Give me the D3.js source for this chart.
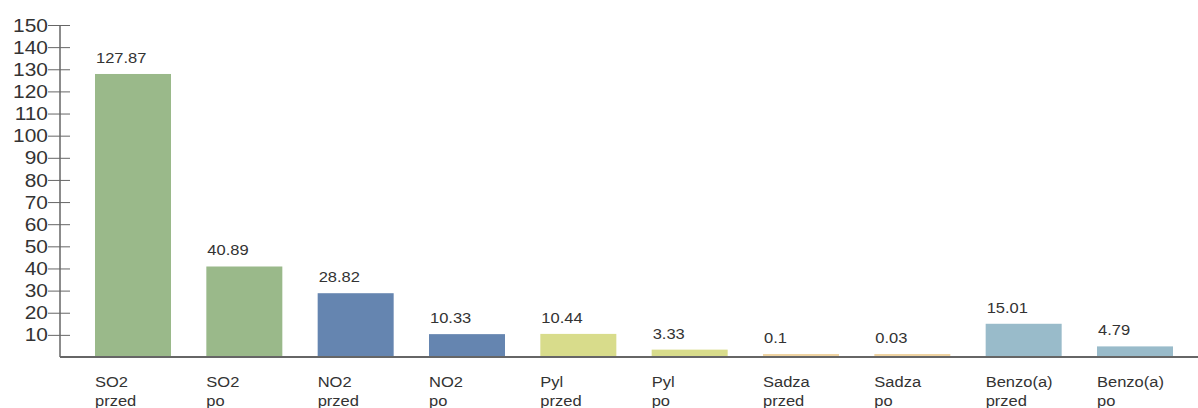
<!DOCTYPE html>
<html><head><meta charset="utf-8">
<script src="https://cdn.jsdelivr.net/npm/d3@7"></script>
<style>body{margin:0;background:#fff}svg{display:block}text{font-family:"Liberation Sans",Arial,sans-serif;fill:#333}</style>
</head><body>
<svg id="c" width="1198" height="408"></svg>
<script>
const categories = ["SO2 przed","SO2 po","NO2 przed","NO2 po","Pyl przed","Pyl po","Sadza przed","Sadza po","Benzo(a) przed","Benzo(a) po"];
const values = [127.87,40.89,28.82,10.33,10.44,3.33,0.1,0.03,15.01,4.79];
const valueLabels = ["127.87","40.89","28.82","10.33","10.44","3.33","0.1","0.03","15.01","4.79"];
const groups = ["SO2","SO2","NO2","NO2","Pyl","Pyl","Sadza","Sadza","Benzo","Benzo"];
const groupColors = {SO2:"#9ab98a",NO2:"#6585b0",Pyl:"#d8dc8b",Sadza:"#f0d4a2",Benzo:"#99bbca"};
const yTicks = [10,20,30,40,50,60,70,80,90,100,110,120,130,140,150];

const svg = d3.select("#c");
const x = d3.scaleBand().domain(categories).range([60,1208]).paddingInner(0.3174).paddingOuter(0.3144);
const y = d3.scaleLinear().domain([0,150]).range([357,25]);
const SX = 1.1;

// bars
svg.selectAll("rect.bar").data(categories).join("rect")
  .attr("x", d=>x(d)).attr("width", x.bandwidth())
  .attr("y", (d,i)=>Math.min(y(values[i]), 354))
  .attr("height", (d,i)=>357-Math.min(y(values[i]),354))
  .attr("fill",(d,i)=>groupColors[groups[i]]);

// value labels
svg.selectAll("text.val").data(categories).join("text")
  .attr("transform",(d,i)=>`translate(${x(d)+1},${Math.min(y(values[i]),354)-11}) scale(${SX},1)`)
  .style("font-size","15px").text((d,i)=>valueLabels[i]);

// x labels
categories.forEach(c=>{
  const parts = c.split(" ");
  parts.forEach((p,j)=>{
    svg.append("text").attr("transform",`translate(${x(c)},${387+j*19}) scale(${SX},1)`)
      .style("font-size","15px").text(p);
  });
});

// y axis
const ax = svg.append("g").attr("transform","translate(60,0)")
  .call(d3.axisLeft(y).tickValues(yTicks).tickSize(12).tickSizeOuter(0).tickPadding(0));
ax.select(".domain").attr("stroke","#666").attr("stroke-width",1.5).attr("d","M0,25V357");
ax.selectAll(".tick line").attr("x1",-12).attr("x2",10).attr("stroke","#666");
ax.selectAll(".tick text").attr("x",null).each(function(){
  const t=d3.select(this); t.attr("transform",`translate(-12,0) scale(${SX},1)`).attr("x",0);
}).style("font-size","19px").style("font-family","'Liberation Sans',Arial,sans-serif").attr("fill","#333");

// x axis line
svg.append("line").attr("x1",60).attr("x2",1198).attr("y1",357).attr("y2",357).attr("stroke","#666").attr("stroke-width",2);
</script>
</body></html>
